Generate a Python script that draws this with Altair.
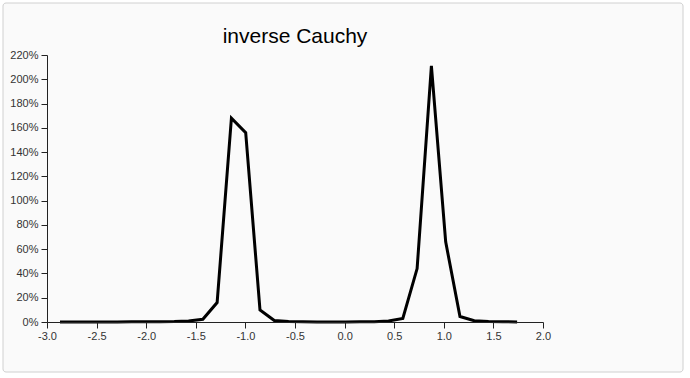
import altair as alt
import pandas as pd

x_vals = [-2.869, -2.725, -2.581, -2.437, -2.293, -2.149, -2.005, -1.861, -1.717,
          -1.573, -1.429, -1.285, -1.141, -0.997, -0.853, -0.709, -0.565, -0.421,
          -0.277, -0.133, 0.011, 0.155, 0.299, 0.443, 0.587, 0.731, 0.875, 1.019,
          1.163, 1.307, 1.451, 1.595, 1.739]
y_pct = [0.1, 0.1, 0.1, 0.1, 0.1, 0.2, 0.2, 0.3, 0.4,
         0.8, 2.2, 16.0, 168.0, 156.0, 10.0, 1.2, 0.4, 0.2,
         0.1, 0.1, 0.1, 0.2, 0.3, 0.8, 3.0, 44.0, 211.0, 66.0,
         4.5, 1.0, 0.4, 0.2, 0.1]
x_ticks = [-3.0, -2.5, -2.0, -1.5, -1.0, -0.5, 0.0, 0.5, 1.0, 1.5, 2.0]
y_ticks = [0.0, 0.2, 0.4, 0.6, 0.8, 1.0, 1.2, 1.4, 1.6, 1.8, 2.0, 2.2]

df = pd.DataFrame({"x": x_vals, "y": [v / 100 for v in y_pct]})

frame = alt.Chart(pd.DataFrame({"a": [0]})).mark_rect(
    fill="#fafafa", stroke="#d0d0d0", strokeWidth=1, cornerRadius=3
).encode(
    x=alt.value(-44), x2=alt.value(636), y=alt.value(-52), y2=alt.value(317)
)

line = alt.Chart(df).mark_line(color="black", strokeWidth=3).encode(
    x=alt.X("x:Q", scale=alt.Scale(domain=[-3, 2], nice=False, zero=False),
            axis=alt.Axis(values=x_ticks, title=None, zindex=1, labelFlush=False,
                          labelPadding=2,
                          labelExpr="replace(format(datum.value, '.1f'), '\u2212', '-')")),
    y=alt.Y("y:Q", scale=alt.Scale(domain=[0, 2.2], nice=False),
            axis=alt.Axis(values=y_ticks, format=".0%", title=None, zindex=1)),
)

chart = alt.layer(frame, line).properties(
    width=496, height=267,
    title=alt.TitleParams("inverse Cauchy", fontSize=21, font="Liberation Sans",
                          fontWeight="normal", color="black", anchor="middle",
                          frame="group", offset=0, dy=61, zindex=1,
                          baseline="alphabetic"),
    autosize=alt.AutoSizeParams(type="none"),
    padding={"left": 47, "top": 55, "right": 147, "bottom": 56},
    background="white",
).configure_view(stroke=None).configure_axis(
    grid=False, domainColor="#222", tickColor="#222", domainWidth=1,
    tickSize=6, labelFont="Liberation Sans", labelFontSize=11, labelColor="#333",
    labelPadding=3,
)

chart.save("out.html", embed_options={"renderer": "svg", "actions": False})
